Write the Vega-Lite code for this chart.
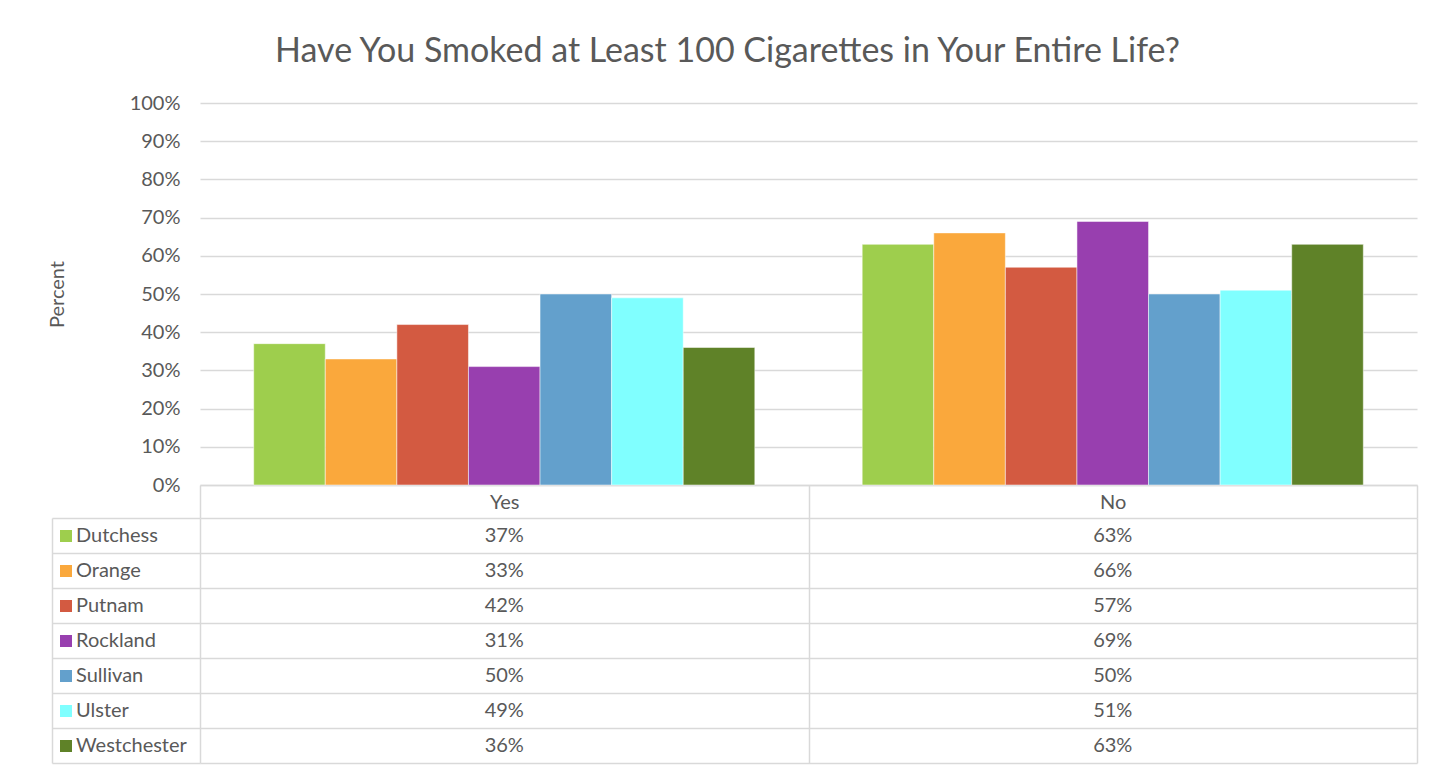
{
  "$schema": "https://vega.github.io/schema/vega-lite/v6.json",
  "padding": {"left": 47, "top": 35, "right": 5, "bottom": 5},
  "background": "white",
  "title": {"text": "Have You Smoked at Least 100 Cigarettes in Your Entire Life?", "font": "Lato", "fontSize": 34, "fontWeight": "normal", "color": "#595959", "anchor": "middle", "offset": 24, "dx": -5},
  "data": {"values": [
    {"answer": "Yes", "county": "Dutchess", "value": 0.37},
    {"answer": "Yes", "county": "Orange", "value": 0.33},
    {"answer": "Yes", "county": "Putnam", "value": 0.42},
    {"answer": "Yes", "county": "Rockland", "value": 0.31},
    {"answer": "Yes", "county": "Sullivan", "value": 0.50},
    {"answer": "Yes", "county": "Ulster", "value": 0.49},
    {"answer": "Yes", "county": "Westchester", "value": 0.36},
    {"answer": "No", "county": "Dutchess", "value": 0.63},
    {"answer": "No", "county": "Orange", "value": 0.66},
    {"answer": "No", "county": "Putnam", "value": 0.57},
    {"answer": "No", "county": "Rockland", "value": 0.69},
    {"answer": "No", "county": "Sullivan", "value": 0.50},
    {"answer": "No", "county": "Ulster", "value": 0.51},
    {"answer": "No", "county": "Westchester", "value": 0.63}
  ]},
  "spacing": 33,
  "bounds": "flush",
  "resolve": {"legend": {"color": "independent"}},
  "vconcat": [
    {
      "width": 1217,
      "height": 382,
      "mark": {"type": "bar", "stroke": "white", "strokeWidth": 0.5},
      "encoding": {
        "x": {"field": "answer", "type": "nominal", "scale": {"domain": ["Yes", "No"], "paddingInner": 0, "paddingOuter": 0},
          "axis": {"title": null, "labelAngle": 0, "labelFont": "Lato", "labelFontSize": 20, "labelColor": "#595959", "labelPadding": -16, "labelBaseline": "middle", "tickBand": "extent", "tickSize": 33, "tickColor": "#d9d9d9", "tickWidth": 1.5, "domainColor": "#d9d9d9", "domainWidth": 1.5, "grid": false}},
        "xOffset": {"field": "county", "type": "nominal", "scale": {"domain": ["Dutchess", "Orange", "Putnam", "Rockland", "Sullivan", "Ulster", "Westchester"], "paddingInner": 0, "paddingOuter": 0.75}},
        "y": {"field": "value", "type": "quantitative", "scale": {"domain": [0, 1], "nice": false},
          "axis": {"title": "Percent", "format": ".0%", "tickCount": 10, "grid": true, "gridColor": "#d9d9d9", "gridWidth": 1.5, "domain": false, "ticks": false, "labelPadding": 20, "labelFont": "Lato", "labelFontSize": 20, "labelColor": "#595959", "titleFont": "Lato", "titleFontSize": 20, "titleColor": "#595959", "titleFontWeight": "normal", "titlePadding": 62}},
        "color": {"field": "county", "type": "nominal",
          "scale": {"domain": ["Dutchess", "Orange", "Putnam", "Rockland", "Sullivan", "Ulster", "Westchester"], "range": ["#9ECE4D", "#FAA83C", "#D35A41", "#983FAF", "#63A0CC", "#80FFFF", "#5F8228"]},
          "legend": null}
      }
    },
    {
      "width": 1217,
      "height": 245,
      "encoding": {
        "x": {"field": "answer", "type": "nominal", "scale": {"domain": ["Yes", "No"], "paddingInner": 0, "paddingOuter": 0},
          "axis": {"title": null, "orient": "top", "labels": false, "ticks": false, "domain": false, "grid": true, "tickBand": "extent", "gridColor": "#d9d9d9", "gridWidth": 1.5}},
        "y": {"field": "county", "type": "nominal", "scale": {"domain": ["Dutchess", "Orange", "Putnam", "Rockland", "Sullivan", "Ulster", "Westchester"], "paddingInner": 0, "paddingOuter": 0},
          "axis": {"title": null, "labels": false, "offset": 148, "domain": true, "domainColor": "#d9d9d9", "domainWidth": 1.5, "ticks": true, "tickSize": -148, "tickBand": "extent", "tickColor": "#d9d9d9", "tickWidth": 1.5, "grid": true, "gridColor": "#d9d9d9", "gridWidth": 1.5}}
      },
      "layer": [
        {
          "mark": {"type": "text", "font": "Lato", "fontSize": 20, "color": "#595959", "baseline": "middle", "align": "center"},
          "encoding": {"text": {"field": "value", "type": "quantitative", "format": ".0%"}}
        },
        {
          "mark": {"type": "point", "shape": "square", "filled": true, "opacity": 0},
          "encoding": {
            "color": {"field": "county", "type": "nominal",
              "scale": {"domain": ["Dutchess", "Orange", "Putnam", "Rockland", "Sullivan", "Ulster", "Westchester"], "range": ["#9ECE4D", "#FAA83C", "#D35A41", "#983FAF", "#63A0CC", "#80FFFF", "#5F8228"]},
              "legend": {"orient": "none", "legendX": -144, "legendY": 8, "title": null, "symbolType": "square", "symbolSize": 144, "symbolOpacity": 1, "symbolStrokeWidth": 0, "labelFont": "Lato", "labelFontSize": 20, "labelColor": "#595959", "labelOffset": 0, "rowPadding": 15, "padding": 0}}
          }
        }
      ]
    }
  ],
  "config": {"view": {"stroke": null}, "font": "Lato"}
}
